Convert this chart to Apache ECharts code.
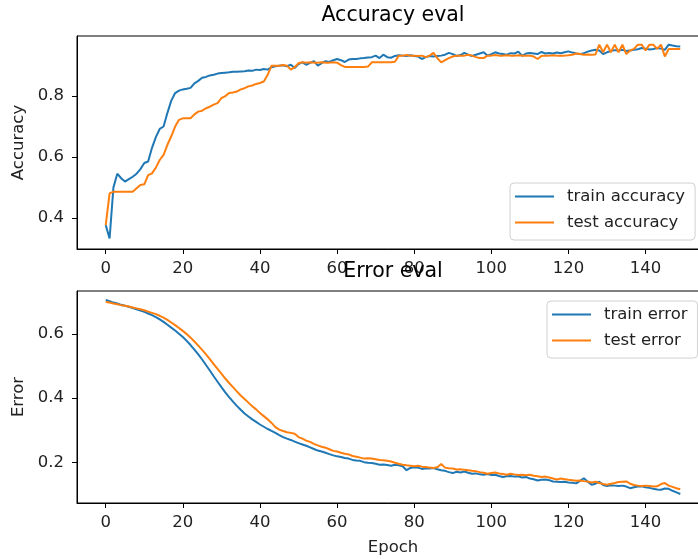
<!DOCTYPE html>
<html>
<head>
<meta charset="utf-8">
<script src="https://cdn.jsdelivr.net/npm/echarts@6/dist/echarts.min.js"></script>
<style>
  html, body { margin: 0; padding: 0; background: #fff; }
  #chart { width: 698px; height: 559px; }
</style>
</head>
<body>
<div id="chart"></div>
<script>
// values, one per epoch (0..149)
let trainAcc = [
  0.376, 0.332, 0.500, 0.545, 0.530, 0.519, 0.527, 0.535, 0.545, 0.560,
  0.580, 0.585, 0.630, 0.665, 0.692, 0.700, 0.745, 0.785, 0.810, 0.818,
  0.822, 0.824, 0.827, 0.842, 0.850, 0.860, 0.863, 0.868, 0.870, 0.874,
  0.876, 0.877, 0.878, 0.880, 0.880, 0.881, 0.882, 0.884, 0.883, 0.887,
  0.886, 0.889, 0.887, 0.895, 0.898, 0.900, 0.901, 0.898, 0.903, 0.892,
  0.905, 0.911, 0.903, 0.909, 0.915, 0.900, 0.908, 0.915, 0.912, 0.918,
  0.922, 0.918, 0.912, 0.920, 0.922, 0.922, 0.924, 0.925, 0.927, 0.928,
  0.933, 0.925, 0.936, 0.928, 0.926, 0.932, 0.934, 0.933, 0.932, 0.934,
  0.932, 0.930, 0.922, 0.928, 0.932, 0.930, 0.932, 0.933, 0.936, 0.942,
  0.938, 0.932, 0.935, 0.942, 0.936, 0.932, 0.936, 0.940, 0.944, 0.933,
  0.938, 0.944, 0.940, 0.938, 0.936, 0.941, 0.940, 0.946, 0.932, 0.940,
  0.942, 0.940, 0.938, 0.945, 0.940, 0.942, 0.940, 0.943, 0.941, 0.944,
  0.947, 0.943, 0.940, 0.938, 0.941, 0.946, 0.950, 0.952, 0.950, 0.938,
  0.944, 0.948, 0.951, 0.950, 0.952, 0.948, 0.950, 0.952, 0.954, 0.958,
  0.956, 0.953, 0.955, 0.958, 0.956, 0.952, 0.969, 0.966, 0.964, 0.963
];
let testAcc = [
  0.376, 0.480, 0.486, 0.486, 0.486, 0.486, 0.486, 0.486, 0.497, 0.508,
  0.510, 0.540, 0.546, 0.565, 0.590, 0.607, 0.640, 0.668, 0.700, 0.722,
  0.727, 0.727, 0.727, 0.740, 0.749, 0.752, 0.760, 0.765, 0.772, 0.777,
  0.793, 0.800, 0.810, 0.812, 0.815, 0.822, 0.826, 0.832, 0.835, 0.840,
  0.843, 0.848, 0.870, 0.900, 0.900, 0.900, 0.902, 0.900, 0.887, 0.895,
  0.908, 0.911, 0.910, 0.911, 0.910, 0.910, 0.911, 0.910, 0.910, 0.911,
  0.910, 0.902, 0.896, 0.896, 0.896, 0.896, 0.896, 0.896, 0.897, 0.911,
  0.911, 0.911, 0.911, 0.911, 0.911, 0.913, 0.933, 0.933, 0.935, 0.933,
  0.933, 0.932, 0.933, 0.928, 0.933, 0.942, 0.925, 0.911, 0.918, 0.925,
  0.930, 0.933, 0.933, 0.933, 0.936, 0.933, 0.928, 0.925, 0.925, 0.933,
  0.933, 0.935, 0.933, 0.933, 0.934, 0.933, 0.933, 0.934, 0.933, 0.933,
  0.933, 0.930, 0.922, 0.932, 0.933, 0.933, 0.934, 0.933, 0.933, 0.933,
  0.934, 0.936, 0.940, 0.938, 0.936, 0.937, 0.936, 0.937, 0.969, 0.944,
  0.969, 0.944, 0.969, 0.944, 0.969, 0.938, 0.950, 0.955, 0.969, 0.969,
  0.950, 0.969, 0.969, 0.955, 0.969, 0.930, 0.955, 0.955, 0.955, 0.955
];
let trainErr = [
  0.705, 0.701, 0.697, 0.694, 0.690, 0.687, 0.684, 0.680, 0.676, 0.672,
  0.668, 0.663, 0.658, 0.652, 0.645, 0.637, 0.628, 0.619, 0.610, 0.600,
  0.590, 0.578, 0.565, 0.551, 0.536, 0.520, 0.503, 0.486, 0.468, 0.451,
  0.434, 0.418, 0.403, 0.389, 0.376, 0.364, 0.352, 0.343, 0.334, 0.326,
  0.318, 0.311, 0.304, 0.298, 0.292, 0.285, 0.279, 0.274, 0.270, 0.265,
  0.260, 0.256, 0.252, 0.247, 0.242, 0.237, 0.234, 0.230, 0.226, 0.222,
  0.219, 0.217, 0.214, 0.212, 0.208, 0.206, 0.205, 0.201, 0.199, 0.198,
  0.196, 0.193, 0.194, 0.192, 0.190, 0.193, 0.191, 0.188, 0.176, 0.183,
  0.185, 0.184, 0.180, 0.182, 0.181, 0.183, 0.179, 0.176, 0.174, 0.170,
  0.167, 0.171, 0.169, 0.172, 0.168, 0.165, 0.166, 0.163, 0.162, 0.164,
  0.161, 0.162, 0.158, 0.155, 0.157, 0.158, 0.156, 0.157, 0.153, 0.155,
  0.150, 0.148, 0.144, 0.146, 0.147, 0.145, 0.141, 0.140, 0.139, 0.140,
  0.138, 0.137, 0.135, 0.143, 0.151, 0.140, 0.131, 0.134, 0.140, 0.130,
  0.127, 0.129, 0.128, 0.127, 0.128, 0.125, 0.120, 0.123, 0.125, 0.126,
  0.123, 0.121, 0.118, 0.116, 0.115, 0.119, 0.118, 0.112, 0.107, 0.102
];
let testErr = [
  0.699, 0.697, 0.694, 0.692, 0.689, 0.687, 0.685, 0.682, 0.679, 0.676,
  0.673, 0.669, 0.665, 0.661, 0.656, 0.650, 0.643, 0.635, 0.627, 0.618,
  0.609, 0.599, 0.588, 0.576, 0.563, 0.550, 0.536, 0.521, 0.506, 0.491,
  0.476, 0.461, 0.447, 0.434, 0.421, 0.408, 0.397, 0.386, 0.375, 0.365,
  0.354, 0.344, 0.334, 0.323, 0.310, 0.302, 0.298, 0.294, 0.292, 0.289,
  0.279, 0.274, 0.268, 0.264, 0.258, 0.253, 0.249, 0.246, 0.241, 0.236,
  0.234, 0.230, 0.227, 0.225, 0.220, 0.218, 0.215, 0.212, 0.213, 0.212,
  0.210, 0.208, 0.207, 0.205, 0.203, 0.199, 0.196, 0.193, 0.191, 0.190,
  0.188, 0.190, 0.187, 0.186, 0.184, 0.183, 0.185, 0.195, 0.184, 0.182,
  0.181, 0.178, 0.179, 0.177, 0.176, 0.174, 0.173, 0.170, 0.168, 0.165,
  0.167, 0.169, 0.166, 0.164, 0.162, 0.165, 0.163, 0.161, 0.162, 0.160,
  0.162, 0.159, 0.157, 0.155, 0.156, 0.153, 0.150, 0.147, 0.150, 0.148,
  0.146, 0.145, 0.143, 0.144, 0.142, 0.141, 0.138, 0.140, 0.136, 0.133,
  0.131, 0.134, 0.136, 0.139, 0.140, 0.141, 0.134, 0.130, 0.128, 0.127,
  0.128, 0.127, 0.125, 0.126, 0.133, 0.136, 0.128, 0.124, 0.120, 0.117
];
let xTicks = [0, 20, 40, 60, 80, 100, 120, 140];
let accTicks = [0.4, 0.6, 0.8];
let errTicks = [0.2, 0.4, 0.6];

const FONT = 'DejaVu Sans';
const BLUE = '#1f77b4';
const ORANGE = '#ff7f0e';

function pairs(arr) {
  return arr.map((v, i) => [i, v]);
}

function xAxisFor(gridIndex, name) {
  return {
    type: 'value',
    gridIndex: gridIndex,
    position: 'bottom',
    min: -7.45,
    max: 156.45,
    name: name,
    nameLocation: 'middle',
    nameGap: 36,
    nameTextStyle: { fontFamily: FONT, fontSize: 16.5, color: '#222' },
    axisLine: { show: true, onZero: false, lineStyle: { color: '#000', width: 1 } },
    axisTick: { show: true, inside: false, length: 5, lineStyle: { color: '#000' }, customValues: xTicks },
    axisLabel: { customValues: xTicks, margin: 11, fontFamily: FONT, fontSize: 16.5, color: '#222' },
    splitLine: { show: false }
  };
}

function yAxisFor(gridIndex, name, min, max, ticks) {
  return {
    type: 'value',
    gridIndex: gridIndex,
    position: 'left',
    min: min,
    max: max,
    name: name,
    nameLocation: 'middle',
    nameGap: 50,
    nameTextStyle: { fontFamily: FONT, fontSize: 16.5, color: '#222' },
    axisLine: { show: true, onZero: false, lineStyle: { color: '#000', width: 1 } },
    axisTick: { show: true, inside: false, length: 5, lineStyle: { color: '#000' }, customValues: ticks },
    axisLabel: {
      customValues: ticks, margin: 13, fontFamily: FONT, fontSize: 16.5, color: '#222',
      formatter: v => v.toFixed(1)
    },
    splitLine: { show: false }
  };
}

function lineSeries(name, arr, color, idx) {
  return {
    name: name,
    type: 'line',
    xAxisIndex: idx,
    yAxisIndex: idx,
    data: pairs(arr),
    symbol: 'none',
    smooth: false,
    animation: false,
    lineStyle: { color: color, width: 2 },
    itemStyle: { color: color }
  };
}

function legendFor(names, left, top) {
  return {
    data: names,
    orient: 'vertical',
    left: left,
    top: top,
    icon: 'rect',
    itemWidth: 39,
    itemHeight: 2,
    itemGap: 9,
    padding: [5, 10, 9, 5],
    backgroundColor: 'rgba(255,255,255,0.8)',
    borderColor: '#d0d0d0',
    borderWidth: 1,
    borderRadius: 4,
    textStyle: { fontFamily: FONT, fontSize: 16.5, color: '#222', lineHeight: 17, padding: [0, 0, 0, 8] }
  };
}

let chart = echarts.init(document.getElementById('chart'), null, { renderer: 'canvas' });

let option = {
  backgroundColor: '#fff',
  animation: false,
  title: [
    {
      text: 'Accuracy eval', left: 393, top: 5, textAlign: 'center', padding: 0,
      textStyle: { fontFamily: FONT, fontSize: 20.5, fontWeight: 'normal', color: '#000' }
    },
    {
      text: 'Error eval', left: 393, top: 261, textAlign: 'center', padding: 0,
      textStyle: { fontFamily: FONT, fontSize: 20.5, fontWeight: 'normal', color: '#000' }
    }
  ],
  grid: [
    { left: 77, top: 36, width: 632, height: 213, containLabel: false, outerBoundsMode: 'none',
      show: true, borderColor: '#000', borderWidth: 1, backgroundColor: 'transparent' },
    { left: 77, top: 291, width: 632, height: 212, containLabel: false, outerBoundsMode: 'none',
      show: true, borderColor: '#000', borderWidth: 1, backgroundColor: 'transparent' }
  ],
  xAxis: [xAxisFor(0, ''), xAxisFor(1, 'Epoch')],
  yAxis: [
    yAxisFor(0, 'Accuracy', 0.2975, 0.9975, accTicks),
    yAxisFor(1, 'Error', 0.074, 0.733, errTicks)
  ],
  legend: [
    legendFor(['train accuracy', 'test accuracy'], 510, 183),
    legendFor(['train error', 'test error'], 547, 301)
  ],
  series: [
    lineSeries('train accuracy', trainAcc, BLUE, 0),
    lineSeries('test accuracy', testAcc, ORANGE, 0),
    lineSeries('train error', trainErr, BLUE, 1),
    lineSeries('test error', testErr, ORANGE, 1)
  ]
};

chart.setOption(option);
</script>
</body>
</html>
